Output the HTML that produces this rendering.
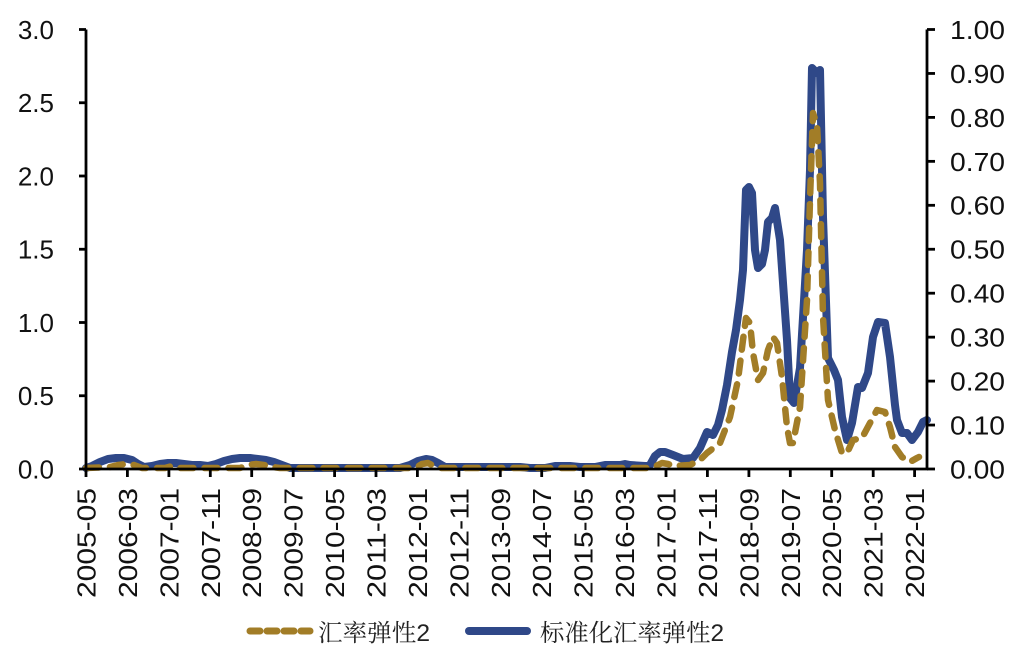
<!DOCTYPE html>
<html>
<head>
<meta charset="utf-8">
<style>
html,body{margin:0;padding:0;background:#fff;}
svg{display:block;}
.t{font-family:"Liberation Sans",Arial,sans-serif;font-size:26px;fill:#111;}
.lg{font-family:"Liberation Sans","Noto Serif CJK SC","Noto Sans CJK SC",serif;font-size:24px;fill:#222;}
</style>
</head>
<body>
<svg width="1024" height="660" viewBox="0 0 1024 660" xmlns="http://www.w3.org/2000/svg">
<rect width="1024" height="660" fill="#fff"/>

<!-- series -->
<polyline fill="none" stroke="#2f4888" stroke-width="8" stroke-linejoin="round" stroke-linecap="round"
points="86,468 92,466 100,462 108,459 116,458 124,458 132,460 138,464 144,467 152,466 160,464 168,463 176,463 184,464 192,465 200,465 208,466 216,464 224,461 232,459 240,458 250,458 258,459 266,460 274,462 282,465 290,468 300,468 400,468 410,465 418,461 426,459 432,460 438,463 445,467 520,467 530,468 545,468 555,466 570,466 580,467 595,467 605,465 620,465 625,464 630,465 645,466 650,465 655,456 660,452 665,452 673,455 683,459 693,458 700,448 707,432 713,435 718,425 722,410 727,385 732,352 736,330 740,300 743,270 746,190 749,187 752,193 755,250 758,268 762,264 765,250 768,222 772,218 775,208 780,240 787,340 790,398 794,403 800,368 807,250 810,170 812,68 817,73 820,70 823,217 828,358 834,370 838,380 842,417 847,440 852,423 858,387 862,388 868,373 873,337 878,322 885,323 890,357 895,405 897,420 902,433 907,433 912,440 918,432 923,422 927,420"/>

<polyline fill="none" stroke="#a27d27" stroke-width="6.5" stroke-linejoin="round" stroke-linecap="round" stroke-dasharray="13 11"
points="86,468 110,467 118,465 126,464 134,465 142,468 165,468 172,466 178,468 240,468 248,465 256,464 264,465 272,467 280,468 415,468 422,464 428,463 434,466 440,468 650,468 656,466 662,463 668,464 673,466 690,465 700,460 707,453 720,443 730,417 738,380 743,340 746,318 750,323 753,353 758,380 763,373 768,350 773,337 777,343 782,377 787,427 790,443 793,443 800,407 807,300 810,200 813,113 817,125 820,183 823,317 828,400 835,430 842,453 847,453 853,440 862,438 870,423 877,410 885,412 890,427 895,447 902,457 910,462 917,458 919,457"/>

<!-- axes -->
<g stroke="#000" stroke-width="2.8" fill="none">
  <line x1="86" y1="29.5" x2="86" y2="470"/>
  <line x1="927" y1="29.5" x2="927" y2="470"/>
  <line x1="85" y1="469" x2="928" y2="469"/>
  <!-- left ticks -->
  <line x1="79" y1="29.5" x2="86" y2="29.5"/>
  <line x1="79" y1="102.75" x2="86" y2="102.75"/>
  <line x1="79" y1="176" x2="86" y2="176"/>
  <line x1="79" y1="249.25" x2="86" y2="249.25"/>
  <line x1="79" y1="322.5" x2="86" y2="322.5"/>
  <line x1="79" y1="395.75" x2="86" y2="395.75"/>
  <line x1="79" y1="469" x2="86" y2="469"/>
  <!-- right ticks -->
  <line x1="927" y1="29.5" x2="935" y2="29.5"/>
  <line x1="927" y1="73.45" x2="935" y2="73.45"/>
  <line x1="927" y1="117.4" x2="935" y2="117.4"/>
  <line x1="927" y1="161.35" x2="935" y2="161.35"/>
  <line x1="927" y1="205.3" x2="935" y2="205.3"/>
  <line x1="927" y1="249.25" x2="935" y2="249.25"/>
  <line x1="927" y1="293.2" x2="935" y2="293.2"/>
  <line x1="927" y1="337.15" x2="935" y2="337.15"/>
  <line x1="927" y1="381.1" x2="935" y2="381.1"/>
  <line x1="927" y1="425.05" x2="935" y2="425.05"/>
  <line x1="927" y1="469" x2="935" y2="469"/>
  <!-- bottom ticks -->
  <line x1="86" y1="469" x2="86" y2="477"/>
  <line x1="127.4" y1="469" x2="127.4" y2="477"/>
  <line x1="168.9" y1="469" x2="168.9" y2="477"/>
  <line x1="210.3" y1="469" x2="210.3" y2="477"/>
  <line x1="251.7" y1="469" x2="251.7" y2="477"/>
  <line x1="293.2" y1="469" x2="293.2" y2="477"/>
  <line x1="334.6" y1="469" x2="334.6" y2="477"/>
  <line x1="376" y1="469" x2="376" y2="477"/>
  <line x1="417.4" y1="469" x2="417.4" y2="477"/>
  <line x1="458.9" y1="469" x2="458.9" y2="477"/>
  <line x1="500.3" y1="469" x2="500.3" y2="477"/>
  <line x1="541.7" y1="469" x2="541.7" y2="477"/>
  <line x1="583.2" y1="469" x2="583.2" y2="477"/>
  <line x1="624.6" y1="469" x2="624.6" y2="477"/>
  <line x1="666" y1="469" x2="666" y2="477"/>
  <line x1="707.4" y1="469" x2="707.4" y2="477"/>
  <line x1="748.9" y1="469" x2="748.9" y2="477"/>
  <line x1="790.3" y1="469" x2="790.3" y2="477"/>
  <line x1="831.7" y1="469" x2="831.7" y2="477"/>
  <line x1="873.2" y1="469" x2="873.2" y2="477"/>
  <line x1="914.6" y1="469" x2="914.6" y2="477"/>
</g>

<!-- left labels -->
<g class="t" text-anchor="end">
  <text x="54" y="39">3.0</text>
  <text x="54" y="112">2.5</text>
  <text x="54" y="185.5">2.0</text>
  <text x="54" y="258.5">1.5</text>
  <text x="54" y="332">1.0</text>
  <text x="54" y="405">0.5</text>
  <text x="54" y="478.5">0.0</text>
</g>

<!-- right labels -->
<g class="t" text-anchor="start">
  <text x="950" y="39" textLength="55" lengthAdjust="spacingAndGlyphs">1.00</text>
  <text x="950" y="83" textLength="55" lengthAdjust="spacingAndGlyphs">0.90</text>
  <text x="950" y="127" textLength="55" lengthAdjust="spacingAndGlyphs">0.80</text>
  <text x="950" y="171" textLength="55" lengthAdjust="spacingAndGlyphs">0.70</text>
  <text x="950" y="214.5" textLength="55" lengthAdjust="spacingAndGlyphs">0.60</text>
  <text x="950" y="258.5" textLength="55" lengthAdjust="spacingAndGlyphs">0.50</text>
  <text x="950" y="302.5" textLength="55" lengthAdjust="spacingAndGlyphs">0.40</text>
  <text x="950" y="346.5" textLength="55" lengthAdjust="spacingAndGlyphs">0.30</text>
  <text x="950" y="390.5" textLength="55" lengthAdjust="spacingAndGlyphs">0.20</text>
  <text x="950" y="434.5" textLength="55" lengthAdjust="spacingAndGlyphs">0.10</text>
  <text x="950" y="478.5" textLength="55" lengthAdjust="spacingAndGlyphs">0.00</text>
</g>

<!-- bottom labels -->
<g class="t" text-anchor="end">
  <text transform="translate(95.5,488) rotate(-90)" textLength="110" lengthAdjust="spacingAndGlyphs">2005-05</text>
  <text transform="translate(136.9,488) rotate(-90)" textLength="110" lengthAdjust="spacingAndGlyphs">2006-03</text>
  <text transform="translate(178.4,488) rotate(-90)" textLength="110" lengthAdjust="spacingAndGlyphs">2007-01</text>
  <text transform="translate(219.8,488) rotate(-90)" textLength="110" lengthAdjust="spacingAndGlyphs">2007-11</text>
  <text transform="translate(261.2,488) rotate(-90)" textLength="110" lengthAdjust="spacingAndGlyphs">2008-09</text>
  <text transform="translate(302.7,488) rotate(-90)" textLength="110" lengthAdjust="spacingAndGlyphs">2009-07</text>
  <text transform="translate(344.1,488) rotate(-90)" textLength="110" lengthAdjust="spacingAndGlyphs">2010-05</text>
  <text transform="translate(385.5,488) rotate(-90)" textLength="110" lengthAdjust="spacingAndGlyphs">2011-03</text>
  <text transform="translate(426.9,488) rotate(-90)" textLength="110" lengthAdjust="spacingAndGlyphs">2012-01</text>
  <text transform="translate(468.4,488) rotate(-90)" textLength="110" lengthAdjust="spacingAndGlyphs">2012-11</text>
  <text transform="translate(509.8,488) rotate(-90)" textLength="110" lengthAdjust="spacingAndGlyphs">2013-09</text>
  <text transform="translate(551.2,488) rotate(-90)" textLength="110" lengthAdjust="spacingAndGlyphs">2014-07</text>
  <text transform="translate(592.7,488) rotate(-90)" textLength="110" lengthAdjust="spacingAndGlyphs">2015-05</text>
  <text transform="translate(634.1,488) rotate(-90)" textLength="110" lengthAdjust="spacingAndGlyphs">2016-03</text>
  <text transform="translate(675.5,488) rotate(-90)" textLength="110" lengthAdjust="spacingAndGlyphs">2017-01</text>
  <text transform="translate(716.9,488) rotate(-90)" textLength="110" lengthAdjust="spacingAndGlyphs">2017-11</text>
  <text transform="translate(758.4,488) rotate(-90)" textLength="110" lengthAdjust="spacingAndGlyphs">2018-09</text>
  <text transform="translate(799.8,488) rotate(-90)" textLength="110" lengthAdjust="spacingAndGlyphs">2019-07</text>
  <text transform="translate(841.2,488) rotate(-90)" textLength="110" lengthAdjust="spacingAndGlyphs">2020-05</text>
  <text transform="translate(882.7,488) rotate(-90)" textLength="110" lengthAdjust="spacingAndGlyphs">2021-03</text>
  <text transform="translate(924.1,488) rotate(-90)" textLength="110" lengthAdjust="spacingAndGlyphs">2022-01</text>
</g>

<!-- legend -->
<line x1="250" y1="631" x2="310" y2="631" stroke="#a27d27" stroke-width="7" stroke-linecap="round" stroke-dasharray="10 7"/>
<text class="lg" x="318" y="641" textLength="112" lengthAdjust="spacingAndGlyphs">汇率弹性2</text>
<line x1="469" y1="631" x2="527" y2="631" stroke="#2f4888" stroke-width="8" stroke-linecap="round"/>
<text class="lg" x="540" y="641" textLength="184" lengthAdjust="spacingAndGlyphs">标准化汇率弹性2</text>
</svg>
</body>
</html>
